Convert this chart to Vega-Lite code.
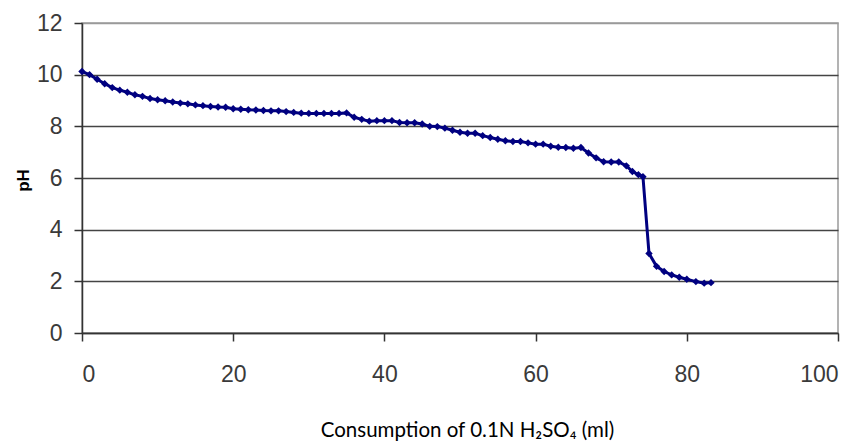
{
  "$schema": "https://vega.github.io/schema/vega-lite/v6.json",
  "autosize": "none",
  "width": 756,
  "height": 310,
  "padding": {"left": 82, "top": 23, "right": 27, "bottom": 110},
  "background": "white",
  "config": {
    "view": {"stroke": "#9a9a9a", "strokeWidth": 1.5}
  },
  "data": {"values": [
    {"ml": 0, "pH": 10.12}, {"ml": 1, "pH": 10.0}, {"ml": 2, "pH": 9.82}, {"ml": 3, "pH": 9.65},
    {"ml": 4, "pH": 9.5}, {"ml": 5, "pH": 9.4}, {"ml": 6, "pH": 9.32}, {"ml": 7, "pH": 9.22},
    {"ml": 8, "pH": 9.16}, {"ml": 9, "pH": 9.08}, {"ml": 10, "pH": 9.03}, {"ml": 11, "pH": 8.99},
    {"ml": 12, "pH": 8.94}, {"ml": 13, "pH": 8.9}, {"ml": 14, "pH": 8.87}, {"ml": 15, "pH": 8.83},
    {"ml": 16, "pH": 8.8}, {"ml": 17, "pH": 8.77}, {"ml": 18, "pH": 8.75}, {"ml": 19, "pH": 8.74},
    {"ml": 20, "pH": 8.68}, {"ml": 21, "pH": 8.66}, {"ml": 22, "pH": 8.64}, {"ml": 23, "pH": 8.63},
    {"ml": 24, "pH": 8.61}, {"ml": 25, "pH": 8.6}, {"ml": 26, "pH": 8.6}, {"ml": 27, "pH": 8.57},
    {"ml": 28, "pH": 8.54}, {"ml": 29, "pH": 8.51}, {"ml": 30, "pH": 8.5}, {"ml": 31, "pH": 8.5},
    {"ml": 32, "pH": 8.5}, {"ml": 33, "pH": 8.5}, {"ml": 34, "pH": 8.5}, {"ml": 35, "pH": 8.52},
    {"ml": 36, "pH": 8.35}, {"ml": 37, "pH": 8.27}, {"ml": 38, "pH": 8.2}, {"ml": 39, "pH": 8.22},
    {"ml": 40, "pH": 8.22}, {"ml": 41, "pH": 8.22}, {"ml": 42, "pH": 8.15}, {"ml": 43, "pH": 8.14},
    {"ml": 44, "pH": 8.14}, {"ml": 45, "pH": 8.09}, {"ml": 46, "pH": 8.0}, {"ml": 47, "pH": 7.99},
    {"ml": 48, "pH": 7.93}, {"ml": 49, "pH": 7.85}, {"ml": 50, "pH": 7.77}, {"ml": 51, "pH": 7.73},
    {"ml": 52, "pH": 7.73}, {"ml": 53, "pH": 7.64}, {"ml": 54, "pH": 7.57}, {"ml": 55, "pH": 7.5},
    {"ml": 56, "pH": 7.44}, {"ml": 57, "pH": 7.41}, {"ml": 58, "pH": 7.41}, {"ml": 59, "pH": 7.36},
    {"ml": 60, "pH": 7.31}, {"ml": 61, "pH": 7.31}, {"ml": 62, "pH": 7.23}, {"ml": 63, "pH": 7.19},
    {"ml": 64, "pH": 7.18}, {"ml": 65, "pH": 7.15}, {"ml": 66, "pH": 7.18}, {"ml": 67, "pH": 6.97},
    {"ml": 68, "pH": 6.78}, {"ml": 69, "pH": 6.63}, {"ml": 70, "pH": 6.62}, {"ml": 71, "pH": 6.62},
    {"ml": 72, "pH": 6.47}, {"ml": 72.8, "pH": 6.25}, {"ml": 73.6, "pH": 6.13}, {"ml": 74.2, "pH": 6.05},
    {"ml": 75.0, "pH": 3.08}, {"ml": 76.0, "pH": 2.58}, {"ml": 77.0, "pH": 2.38}, {"ml": 78.0, "pH": 2.25},
    {"ml": 79.0, "pH": 2.16}, {"ml": 80.0, "pH": 2.08}, {"ml": 81.2, "pH": 1.99}, {"ml": 82.3, "pH": 1.93},
    {"ml": 83.2, "pH": 1.95}
  ]},
  "encoding": {
    "x": {
      "field": "ml", "type": "quantitative",
      "scale": {"domain": [0, 100], "nice": false, "zero": false},
      "axis": {
        "values": [0, 20, 40, 60, 80, 100], "grid": false,
        "labelFont": "Liberation Sans", "labelFontSize": 23, "labelColor": "#3a3a3a", "labelPadding": 22,
        "domainColor": "#333333", "domainWidth": 1.5, "tickColor": "#333333", "tickWidth": 1.5, "tickSize": 8,
        "title": "Consumption of 0.1N H₂SO₄ (ml)", "titleFont": "Lato", "titleFontSize": 20.5, "titleFontWeight": "normal", "titleColor": "#000000",
        "titleX": 385, "titleY": 97, "titleBaseline": "middle", "titleAlign": "center"
      }
    },
    "y": {
      "field": "pH", "type": "quantitative",
      "scale": {"domain": [0, 12], "nice": false},
      "axis": {
        "values": [0, 2, 4, 6, 8, 10, 12], "grid": true,
        "gridColor": {"condition": {"test": "datum.value === 12", "value": "#9a9a9a"}, "value": "#444444"},
        "gridWidth": 1.5,
        "labelFont": "Liberation Sans", "labelFontSize": 23, "labelColor": "#3a3a3a", "labelPadding": 12,
        "domainColor": "#333333", "domainWidth": 1.5, "tickColor": "#333333", "tickWidth": 1.5, "tickSize": 8,
        "title": "pH", "titleFont": "Liberation Sans", "titleFontSize": 17, "titleFontWeight": "bold", "titleColor": "#000000",
        "titleX": -59, "titleY": 157, "titleBaseline": "middle", "titleAlign": "center", "titleAngle": -90
      }
    }
  },
  "layer": [
    {"mark": {"type": "line", "color": "#000080", "strokeWidth": 3}},
    {"mark": {"type": "point", "shape": "diamond", "filled": true, "color": "#000080", "size": 55, "opacity": 1}}
  ]
}
